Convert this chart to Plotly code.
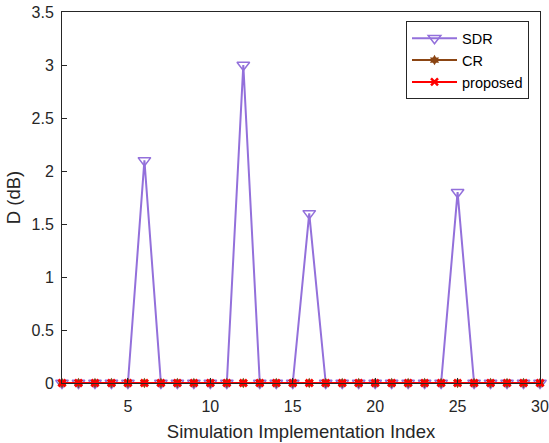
import plotly.graph_objects as go

x_idx = list(range(1, 31))
sdr = [0, 0, 0, 0, 0, 2.1, 0, 0, 0, 0, 0, 3.0, 0, 0, 0, 1.6, 0, 0, 0, 0, 0, 0, 0, 0, 1.8, 0, 0, 0, 0, 0]
cr = [0] * 30
proposed = [0] * 30

fig = go.Figure()
fig.add_trace(go.Scatter(x=x_idx, y=sdr, name="SDR", mode="lines+markers", cliponaxis=False,
                         line=dict(color="#9370DB", width=2),
                         marker=dict(symbol="triangle-down-open", size=11, color="#9370DB", line=dict(width=1.5))))
fig.add_trace(go.Scatter(x=x_idx, y=cr, name="CR", mode="lines+markers", cliponaxis=False,
                         line=dict(color="#8B4513", width=2),
                         marker=dict(symbol="hexagram", size=8, color="#8B4513", line=dict(width=0))))
fig.add_trace(go.Scatter(x=x_idx, y=proposed, name="proposed", mode="lines+markers", cliponaxis=False,
                         line=dict(color="#FF0000", width=2),
                         marker=dict(symbol="x-thin-open", size=7, color="#FF0000", line=dict(width=2.5, color="#FF0000"))))

FONT = "Liberation Sans"
axis_common = dict(showgrid=False, zeroline=False, showline=True, mirror=True,
                   linecolor="#262626", linewidth=1, ticks="inside", ticklen=5,
                   tickcolor="#262626", automargin=False,
                   tickfont=dict(size=16, color="#262626", family=FONT))
fig.update_xaxes(range=[1, 30], tickvals=[5, 10, 15, 20, 25, 30], ticklabelstandoff=9,
                 title=dict(text="Simulation Implementation Index", font=dict(size=18.5, color="#262626", family=FONT), standoff=10),
                 **axis_common)
fig.update_yaxes(range=[0, 3.5], tickvals=[0, 0.5, 1, 1.5, 2, 2.5, 3, 3.5],
                 ticktext=["0", "0.5", "1", "1.5", "2", "2.5", "3", "3.5"], ticklabelstandoff=4,
                 title=dict(text="D (dB)", font=dict(size=18.5, color="#262626", family=FONT), standoff=6),
                 **axis_common)
fig.update_layout(width=549, height=443, margin=dict(l=62, r=9, t=12, b=60),
                  plot_bgcolor="white", paper_bgcolor="white",
                  legend=dict(x=0.977, y=0.975, xanchor="right", yanchor="top",
                              bgcolor="white", bordercolor="#262626", borderwidth=1,
                              font=dict(size=14.5, color="black", family=FONT),
                              tracegroupgap=0, itemwidth=45))
fig.write_html("out.html")
